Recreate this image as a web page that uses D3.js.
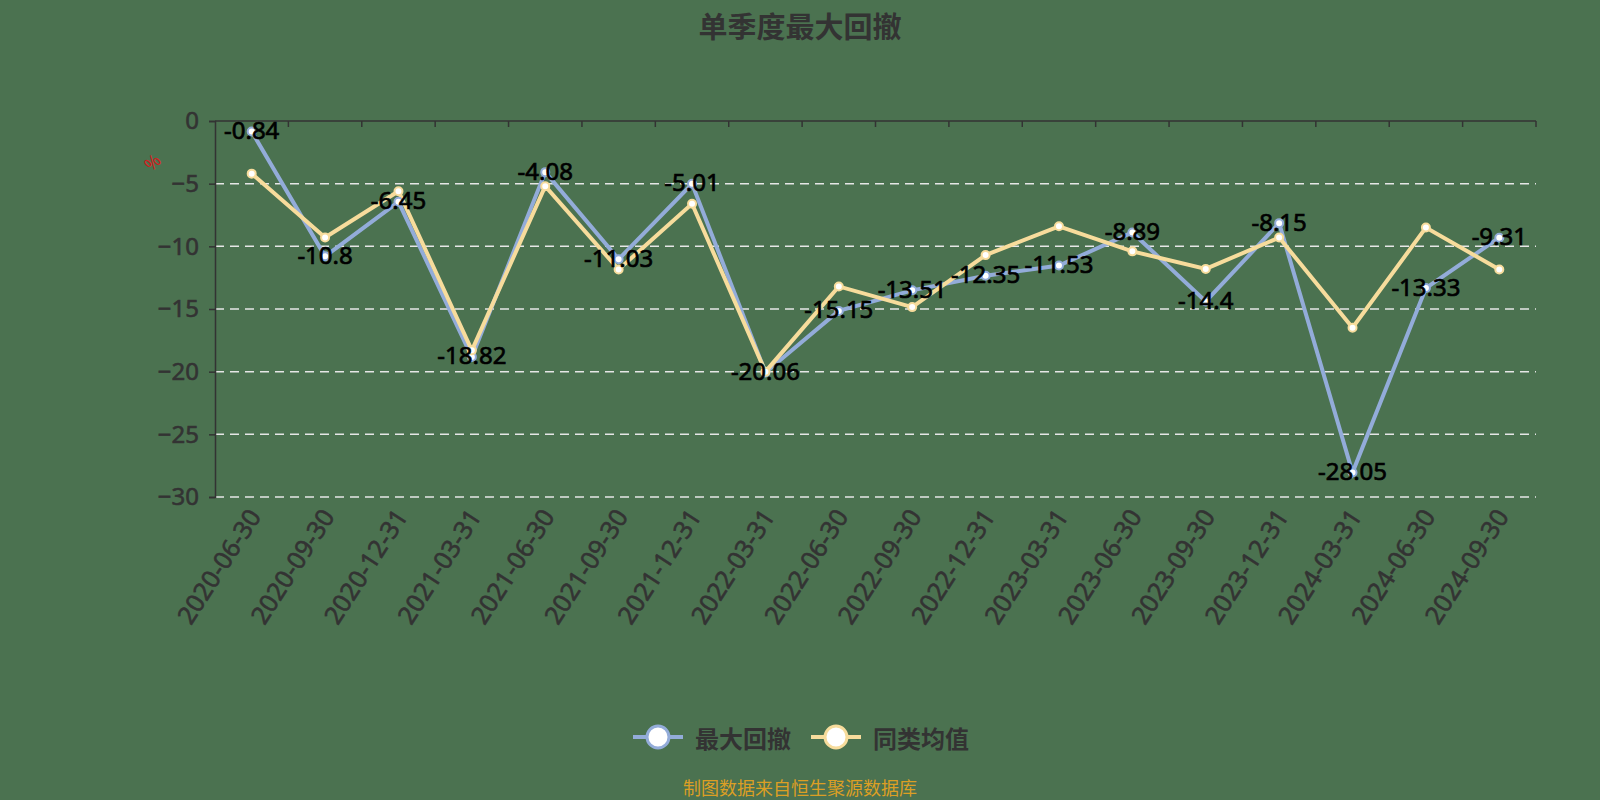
<!DOCTYPE html>
<html>
<head>
<meta charset="utf-8">
<script src="https://cdn.jsdelivr.net/npm/d3@7"></script>
<style>
  html, body { margin: 0; padding: 0; background: #4b7250; }
  svg { display: block; }
</style>
</head>
<body>
<svg id="chart"></svg>
<script>
const categories = ['2020-06-30', '2020-09-30', '2020-12-31', '2021-03-31', '2021-06-30', '2021-09-30',
  '2021-12-31', '2022-03-31', '2022-06-30', '2022-09-30', '2022-12-31', '2023-03-31',
  '2023-06-30', '2023-09-30', '2023-12-31', '2024-03-31', '2024-06-30', '2024-09-30'];
const maxDrawdown = [-0.84, -10.8, -6.45, -18.82, -4.08, -11.03, -5.01, -20.06, -15.15, -13.51,
  -12.35, -11.53, -8.89, -14.4, -8.15, -28.05, -13.33, -9.31];
const peerAvg = [-4.2, -9.3, -5.6, -18.3, -5.2, -11.85, -6.6, -20.0, -13.2, -14.85,
  -10.7, -8.4, -10.4, -11.8, -9.3, -16.5, -8.5, -11.85];
const yTicks = [0, -5, -10, -15, -20, -25, -30];
const seriesNames = ['最大回撤', '同类均值'];

const width = 1600, height = 800;
const margin = { top: 121, right: 64, bottom: 303, left: 215 };
const blue = '#93acd9', yellow = '#f7dc9c';
const font = '"Noto Sans", "Noto Sans CJK SC", sans-serif';
const cjk = '"Noto Sans CJK SC", sans-serif';

const svg = d3.select('#chart').attr('width', width).attr('height', height);

svg.append('rect').attr('width', width).attr('height', height).attr('fill', '#4b7250');

// title
svg.append('text')
  .attr('x', width / 2).attr('y', 25)
  .attr('text-anchor', 'middle').attr('dominant-baseline', 'central')
  .style('font-family', cjk)
  .style('font-size', '29px').style('font-weight', 'bold')
  .attr('fill', '#333').text('单季度最大回撤');

const x = d3.scaleBand()
  .domain(categories)
  .range([margin.left, width - margin.right]);

const y = d3.scaleLinear()
  .domain([-30, 0])
  .range([height - margin.bottom, margin.top]);

// grid lines
svg.append('g')
  .selectAll('line')
  .data(yTicks.filter(d => d !== 0))
  .enter()
  .append('line')
  .attr('x1', margin.left).attr('x2', width - margin.right)
  .attr('y1', d => y(d)).attr('y2', d => y(d))
  .attr('stroke', '#e6e6e6').attr('stroke-width', 1.5)
  .attr('stroke-dasharray', '9,6');

// y axis
const yAxis = svg.append('g')
  .attr('transform', `translate(${margin.left},0)`)
  .call(d3.axisLeft(y).tickValues(yTicks).tickSize(6).tickPadding(10).tickFormat(d3.format('d')));
yAxis.select('.domain').attr('stroke', '#333').attr('stroke-width', 1.5);
yAxis.selectAll('.tick line').attr('stroke', '#333').attr('stroke-width', 1.5);
yAxis.selectAll('text')
  .attr('fill', '#333').attr('stroke', '#333').attr('stroke-width', 0.6)
  .style('font-family', font).style('font-size', '24px');

// x axis line on zero with boundary ticks
const xAxis = svg.append('g')
  .attr('transform', `translate(0,${y(0)})`);
xAxis.append('line')
  .attr('x1', margin.left).attr('x2', width - margin.right)
  .attr('stroke', '#333').attr('stroke-width', 1.5);
xAxis.selectAll('.bt')
  .data(categories)
  .enter()
  .append('line')
  .attr('class', 'bt')
  .attr('x1', d => x(d) + x.bandwidth()).attr('x2', d => x(d) + x.bandwidth())
  .attr('y1', 0).attr('y2', 6)
  .attr('stroke', '#333').attr('stroke-width', 1.5);

// x labels at bottom
svg.append('g')
  .selectAll('text')
  .data(categories)
  .enter()
  .append('text')
  .attr('transform', d => `translate(${x(d) + x.bandwidth() / 2 + 2},${y(-30) + 14}) rotate(-57)`)
  .attr('text-anchor', 'end')
  .attr('dominant-baseline', 'central')
  .attr('fill', '#333').attr('stroke', '#333').attr('stroke-width', 0.6)
  .style('font-family', font).style('font-size', '25px')
  .text(d => d);

// y axis name
svg.append('text')
  .attr('transform', `translate(152,162) rotate(-45)`)
  .attr('text-anchor', 'middle').attr('dominant-baseline', 'central')
  .attr('fill', '#d02020')
  .style('font-family', font).style('font-size', '18px')
  .text('%');

const line = d3.line()
  .x((d, i) => x(categories[i]) + x.bandwidth() / 2)
  .y(d => y(d));

const series = [
  { name: seriesNames[0], values: maxDrawdown, color: blue },
  { name: seriesNames[1], values: peerAvg, color: yellow }
];

series.forEach(s => {
  svg.append('path')
    .datum(s.values)
    .attr('d', line)
    .attr('fill', 'none')
    .attr('stroke', s.color)
    .attr('stroke-width', 4);
});

// points drawn on top
series.forEach(s => {
  svg.append('g')
    .selectAll('circle')
    .data(s.values)
    .enter()
    .append('circle')
    .attr('cx', (d, i) => x(categories[i]) + x.bandwidth() / 2)
    .attr('cy', d => y(d))
    .attr('r', 4)
    .attr('fill', '#fff')
    .attr('stroke', s.color)
    .attr('stroke-width', 2);
});

// data labels for max drawdown
svg.append('g')
  .selectAll('text')
  .data(maxDrawdown)
  .enter()
  .append('text')
  .attr('x', (d, i) => x(categories[i]) + x.bandwidth() / 2)
  .attr('y', d => y(d) - 2)
  .attr('text-anchor', 'middle')
  .attr('dominant-baseline', 'central')
  .attr('fill', '#000').attr('stroke', '#000').attr('stroke-width', 0.7)
  .style('font-family', font).style('font-size', '24px')
  .text(d => d);

// legend
const legend = svg.append('g');
const legendItems = [
  { name: seriesNames[0], color: blue, x0: 633 },
  { name: seriesNames[1], color: yellow, x0: 811 }
];
legendItems.forEach(it => {
  const g = legend.append('g').attr('transform', `translate(${it.x0},737)`);
  g.append('line').attr('x1', 0).attr('x2', 50)
    .attr('stroke', it.color).attr('stroke-width', 4);
  g.append('circle').attr('cx', 25).attr('r', 11)
    .attr('fill', '#fff').attr('stroke', it.color).attr('stroke-width', 3);
  g.append('text').attr('x', 62).attr('dominant-baseline', 'central')
    .attr('fill', '#333')
    .style('font-family', cjk)
    .style('font-size', '24px').style('font-weight', 'bold')
    .text(it.name);
});

// footer
svg.append('text')
  .attr('x', width / 2).attr('y', 787)
  .attr('text-anchor', 'middle').attr('dominant-baseline', 'central')
  .attr('fill', '#dc9f24')
  .style('font-family', cjk)
  .style('font-size', '18px')
  .text('制图数据来自恒生聚源数据库');
</script>
</body>
</html>
